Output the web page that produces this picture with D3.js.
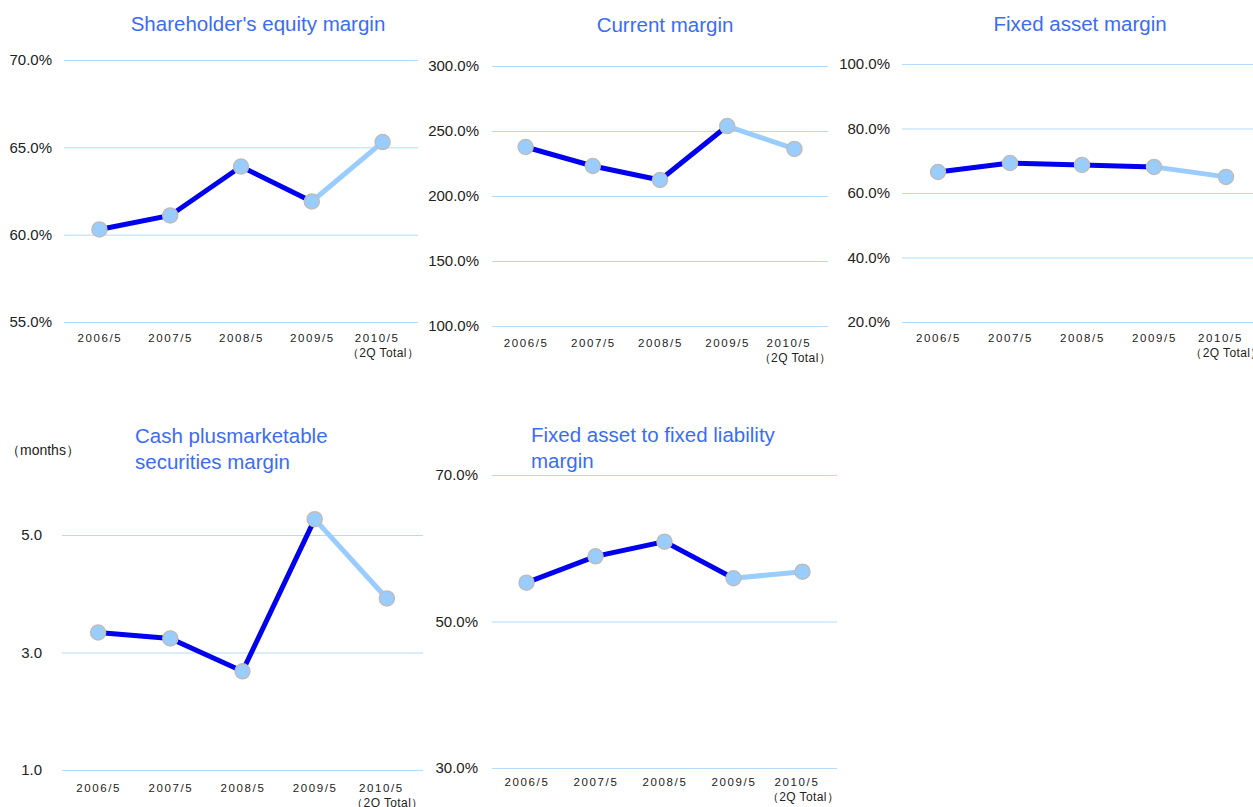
<!DOCTYPE html>
<html>
<head>
<meta charset="utf-8">
<script src="https://cdn.jsdelivr.net/npm/d3@7"></script>
<style>
  body { margin: 0; background: #fff; }
  svg { display: block; font-family: "Liberation Sans", Arial, sans-serif; }
  .grid line { stroke: #b5dbf7; stroke-width: 1; }
  .grid .domain { display: none; }
  .grid text { fill: #222; font-size: 15px; }
  .xax .domain { display: none; }
  .xax text { fill: #222; font-size: 11.5px; letter-spacing: 1.6px; }
  .title { fill: #3b6cf6; font-size: 20.5px; }
</style>
</head>
<body>
<script>
// periods on the x axis
var years = ["2006/5", "2007/5", "2008/5", "2009/5", "2010/5"];
var lastNote = "（2Q Total）";

// values
var equityMargin = [60.3, 61.1, 63.9, 61.9, 65.3];
var currentMargin = [237.7, 223.1, 212.3, 253.8, 236.2];
var fixedAssetMargin = [66.5, 69.3, 68.7, 68.1, 65.0];
var cashMonths = [3.34, 3.24, 2.68, 5.27, 3.92];
var fixedLiabMargin = [55.3, 58.9, 60.9, 55.9, 56.8];

// tick values
var equityTicks = [55, 60, 65, 70];
var currentTicks = [100, 150, 200, 250, 300];
var fixedAssetTicks = [20, 40, 60, 80, 100];
var cashTicks = [1, 3, 5];
var fixedLiabTicks = [30, 50, 70];

var pct = function(d){ return d3.format(".1f")(d) + "%"; };
var plain = d3.format(".1f");

var svg = d3.select("body").append("svg")
  .attr("width", 1253)
  .attr("height", 807);

function drawPanel(opt){
  var g = svg.append("g");

  var x = d3.scalePoint()
    .domain(years)
    .range([opt.x0, opt.x1])
    .padding(0.5);

  var y = d3.scaleLinear()
    .domain(d3.extent(opt.ticks))
    .range([opt.yBottom, opt.yTop]);

  // gridlines + y labels
  g.append("g")
    .attr("class", "grid")
    .attr("transform", "translate(" + opt.x0 + ",0)")
    .call(d3.axisLeft(y)
      .tickValues(opt.ticks)
      .tickSize(-(Math.min(opt.x1, 1253) - opt.x0))
      .tickPadding(opt.pad)
      .tickFormat(opt.fmt));

  // x labels
  var xa = g.append("g")
    .attr("class", "xax")
    .attr("transform", "translate(0," + opt.xLabelY + ")")
    .call(d3.axisBottom(x).tickSize(0).tickPadding(0));
  xa.selectAll("text").attr("dy", 0);
  xa.selectAll(".tick").filter(function(d, i){ return i == years.length - 1; })
    .select("text")
    .attr("dx", -6)
    .each(function(){
      d3.select(this.parentNode).append("text")
        .attr("fill", "#222")
        .attr("y", 15)
        .attr("text-anchor", "middle")
        .style("font-size", "12px")
        .style("letter-spacing", "0.4px")
        .text(lastNote);
    });

  var line = d3.line()
    .x(function(d){ return x(d.year); })
    .y(function(d){ return y(d.value); });

  var pts = opt.data.map(function(v, i){ return {year: years[i], value: v}; });

  g.append("path")
    .datum(pts.slice(0, 4))
    .attr("fill", "none")
    .attr("stroke", "#0000ee")
    .attr("stroke-width", 5)
    .attr("d", line);

  g.append("path")
    .datum(pts.slice(3))
    .attr("fill", "none")
    .attr("stroke", "#99ccff")
    .attr("stroke-width", 5)
    .attr("d", line);

  g.selectAll(".dot")
    .data(pts)
    .enter()
    .append("circle")
    .attr("class", "dot")
    .attr("cx", function(d){ return x(d.year); })
    .attr("cy", function(d){ return y(d.value); })
    .attr("r", 7.5)
    .attr("fill", "#99ccff")
    .attr("stroke", "#bdbdbd")
    .attr("stroke-width", 1.5);

  // title
  var t = g.append("text")
    .attr("class", "title")
    .attr("x", opt.titleX)
    .attr("y", opt.titleY)
    .attr("text-anchor", opt.anchor || "middle");
  opt.title.forEach(function(s, i){
    t.append("tspan")
      .attr("x", opt.titleX)
      .attr("dy", i == 0 ? 0 : 26)
      .text(s);
  });
}

drawPanel({
  data: equityMargin, ticks: equityTicks, fmt: pct,
  x0: 64, x1: 418, yTop: 60, yBottom: 322, pad: 12,
  xLabelY: 342, title: ["Shareholder's equity margin"], titleX: 258, titleY: 31
});

drawPanel({
  data: currentMargin, ticks: currentTicks, fmt: pct,
  x0: 492, x1: 828, yTop: 66, yBottom: 326, pad: 13,
  xLabelY: 347, title: ["Current margin"], titleX: 665, titleY: 32
});

drawPanel({
  data: fixedAssetMargin, ticks: fixedAssetTicks, fmt: pct,
  x0: 902, x1: 1262, yTop: 64, yBottom: 322, pad: 12,
  xLabelY: 342, title: ["Fixed asset margin"], titleX: 1080, titleY: 31
});

drawPanel({
  data: cashMonths, ticks: cashTicks, fmt: plain,
  x0: 62, x1: 423, yTop: 535, yBottom: 770, pad: 20,
  xLabelY: 792, title: ["Cash plusmarketable", "securities margin"],
  titleX: 135, titleY: 443, anchor: "start"
});

drawPanel({
  data: fixedLiabMargin, ticks: fixedLiabTicks, fmt: pct,
  x0: 492, x1: 837, yTop: 475, yBottom: 768, pad: 14,
  xLabelY: 786, title: ["Fixed asset to fixed liability", "margin"],
  titleX: 531, titleY: 442, anchor: "start"
});

svg.append("text")
  .attr("x", 6)
  .attr("y", 455)
  .attr("fill", "#222")
  .style("font-size", "14px")
  .text("（months）");
</script>
</body>
</html>
